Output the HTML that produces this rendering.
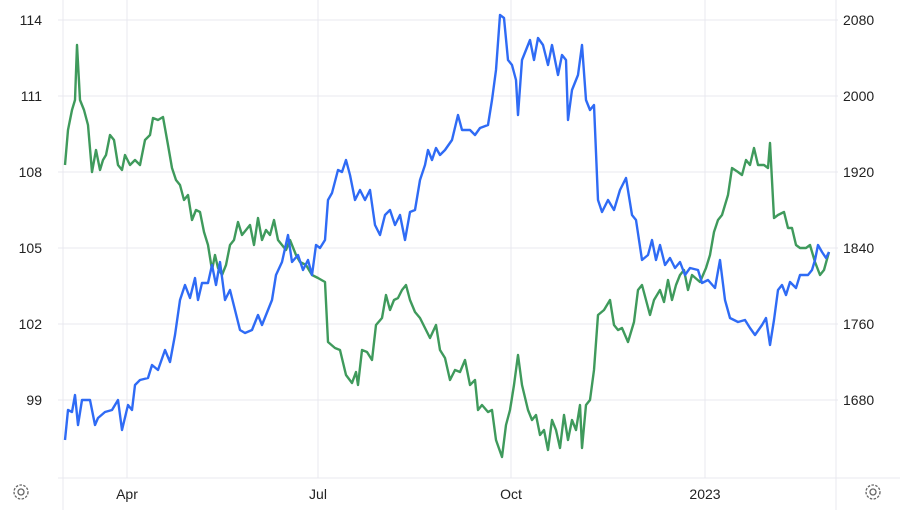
<!DOCTYPE html>
<html><head><style>
body{margin:0;background:#fff;}
svg text{font-family:"Liberation Sans",sans-serif;font-size:14px;fill:#222;}
</style></head><body>
<svg width="900" height="510" viewBox="0 0 900 510">
<g stroke="#e9e9ef" stroke-width="1">
<line x1="58" y1="20" x2="838" y2="20"/><line x1="58" y1="96" x2="838" y2="96"/>
<line x1="58" y1="172" x2="838" y2="172"/><line x1="58" y1="248" x2="838" y2="248"/>
<line x1="58" y1="324" x2="838" y2="324"/><line x1="58" y1="400" x2="838" y2="400"/>
<line x1="127" y1="0" x2="127" y2="478"/><line x1="318" y1="0" x2="318" y2="478"/>
<line x1="511" y1="0" x2="511" y2="478"/><line x1="705" y1="0" x2="705" y2="478"/>
<line x1="63" y1="0" x2="63" y2="510"/><line x1="836" y1="0" x2="836" y2="510"/>
<line x1="58" y1="478" x2="900" y2="478"/>
</g>
<g text-anchor="end"><text x="42" y="25">114</text><text x="42" y="101">111</text><text x="42" y="177">108</text><text x="42" y="253">105</text><text x="42" y="329">102</text><text x="42" y="405">99</text></g>
<g><text x="843" y="25">2080</text><text x="843" y="101">2000</text><text x="843" y="177">1920</text><text x="843" y="253">1840</text><text x="843" y="329">1760</text><text x="843" y="405">1680</text></g>
<g text-anchor="middle"><text x="127" y="499">Apr</text><text x="318" y="499">Jul</text><text x="511" y="499">Oct</text><text x="705" y="499">2023</text></g>
<g fill="none" stroke="#666" stroke-width="1.3"><circle cx="21" cy="492" r="3"/><circle cx="21" cy="492" r="7" stroke-dasharray="2.5 1.4"/><circle cx="873" cy="492" r="3"/><circle cx="873" cy="492" r="7" stroke-dasharray="2.5 1.4"/></g>
<polyline fill="none" stroke="#3f9a5c" stroke-width="2.4" stroke-linejoin="round" points="65,165 68,130 72,110 75,100 77,45 80,100 84,110 88,125 92,172 96,150 100,170 103,160 106,155 110,135 114,140 118,165 122,170 125,155 130,165 135,160 140,165 145,140 150,135 153,118 158,120 163,117 168,145 172,168 176,180 180,185 184,200 188,195 192,220 196,210 200,212 204,232 208,245 212,270 215,255 218,268 222,275 226,265 230,245 234,240 238,222 242,235 246,230 250,225 254,245 258,218 262,240 266,230 270,235 274,220 278,240 282,245 286,250 290,240 296,255 300,262 306,265 312,275 318,278 325,282 328,342 335,348 340,350 346,375 352,383 356,372 358,385 362,350 367,352 372,360 376,325 382,318 386,295 390,310 394,300 398,298 402,290 406,285 410,300 415,312 420,318 425,328 430,338 436,325 440,350 445,358 450,380 455,370 460,372 465,360 470,385 475,380 478,410 482,405 488,412 492,410 496,440 502,457 506,425 510,410 514,385 518,355 522,385 528,410 532,420 536,415 540,435 544,430 548,450 552,420 556,430 560,448 564,415 568,440 572,420 576,430 580,405 582,448 586,405 590,400 594,370 598,315 604,310 610,300 614,325 618,330 622,328 628,342 634,322 638,290 642,285 646,300 650,315 654,300 660,290 664,302 668,280 672,300 676,285 680,275 684,270 688,290 692,275 700,282 706,268 710,255 714,232 718,220 722,215 728,195 732,168 738,172 742,175 746,160 750,165 754,148 758,165 764,165 768,168 770,143 774,218 778,215 784,212 788,228 792,228 796,245 800,248 806,248 810,245 815,262 820,275 824,270 829,252"/>
<polyline fill="none" stroke="#2f6bf5" stroke-width="2.4" stroke-linejoin="round" points="65,440 68,410 72,412 75,395 78,425 82,400 90,400 95,425 98,418 105,412 112,410 118,400 122,430 128,405 132,410 135,385 140,380 148,378 152,365 158,370 165,350 170,362 175,335 180,300 185,285 190,298 195,278 198,300 202,283 208,283 212,265 216,285 220,262 225,300 230,290 235,310 240,330 245,333 252,330 258,315 262,325 268,310 272,300 276,275 282,262 288,235 292,262 298,255 303,270 308,260 312,275 316,245 320,248 325,240 328,200 332,193 338,170 342,172 346,160 350,175 355,200 360,190 365,200 370,190 375,225 380,235 385,215 390,210 395,225 400,215 405,240 410,212 415,210 420,180 425,165 428,150 432,160 436,148 440,155 445,150 452,140 458,115 462,130 470,130 475,135 480,128 488,125 492,100 496,70 500,15 504,18 508,60 512,65 516,80 518,115 522,60 526,50 530,40 534,60 538,38 543,45 548,65 552,45 558,75 562,55 566,60 568,120 572,90 578,75 582,45 586,100 590,110 594,105 598,200 602,212 608,200 614,210 620,190 626,178 632,215 636,220 642,260 648,255 652,240 656,260 660,245 665,265 670,258 675,268 680,262 685,275 690,268 698,270 702,283 708,280 715,288 720,260 725,300 730,318 738,322 745,320 750,328 755,335 762,325 766,318 770,345 774,320 778,290 782,285 786,295 790,282 796,288 800,275 808,275 812,270 815,260 818,245 822,252 826,258 829,252"/>
</svg>
</body></html>
